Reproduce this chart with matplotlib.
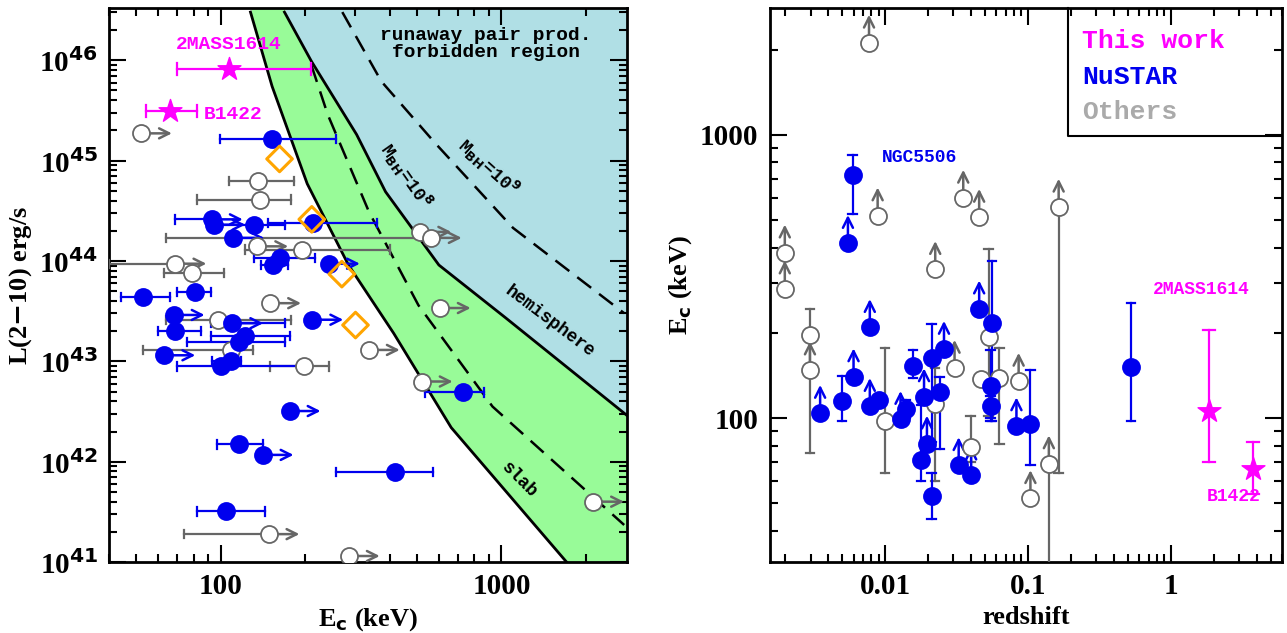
import numpy as np
import matplotlib
matplotlib.use("Agg")
import matplotlib.pyplot as plt

nan = np.nan
BLUE = "#0000ee"
GREY = "#666666"
PINK = "#ff00ff"
ORANGE = "#ffa500"

# ---------------- left panel data: Ec (keV) vs L(2-10) ----------------
blue_ec = [152, 93, 95, 131, 214, 111, 163, 154, 243, 53, 81, 68, 110, 212, 69, 122, 116, 63, 100, 109, 176, 116, 141, 418, 104, 728]
blue_L = [1.64e45, 2.6e44, 2.3e44, 2.3e44, 2.4e44, 1.7e44, 1.07e44, 9.1e43, 9.4e43, 4.4e43, 4.9e43, 2.9e43, 2.4e43, 2.6e43,
          2.0e43, 1.8e43, 1.55e43, 1.15e43, 8.9e42, 1.0e43, 3.2e42, 1.49e42, 1.17e42, 7.9e41, 3.2e41, 4.9e42]
blue_lo = [99, 69, nan, 100, 147, nan, 131, 139, nan, 44, 70, nan, 92, nan, 60, 92, 76, nan, 70, 93, nan, 97, nan, 258, 82, 535]
blue_hi = [258, nan, nan, 170, 361, nan, 217, 174, nan, 66, 92, nan, 170, nan, 85, 176, 170, nan, 196, 118, nan, 141, nan, 569, 144, 866]
blue_lim = [0, 1, 1, 0, 0, 1, 0, 0, 1, 0, 0, 1, 1, 1, 0, 0, 0, 1, 0, 0, 1, 0, 1, 0, 0, 0]

grey_ec = [52, 136, 138, 135, 195, 514, 560, 69, 79, 150, 98, 109, 198, 337, 603, 520, 2120, 148, 286]
grey_L = [1.87e45, 6.3e44, 4.1e44, 1.4e44, 1.3e44, 1.95e44, 1.7e44, 9.4e43, 7.6e43, 3.8e43, 2.6e43, 1.3e43, 8.9e42,
          1.3e43, 3.4e43, 6.3e42, 4.0e41, 1.9e41, 1.15e41]
grey_lo = [nan, 107, 82, nan, 122, nan, 64, 40, 63, nan, 64, 53, 150, nan, nan, nan, nan, 74, nan]
grey_hi = [nan, 183, 178, nan, 400, nan, nan, nan, 103, nan, 178, 130, 244, nan, nan, nan, nan, nan, nan]
grey_lim = [1, 0, 0, 1, 0, 1, 1, 1, 0, 1, 0, 0, 0, 1, 1, 1, 1, 1, 1]

diam_ec = [162, 211, 270, 302]
diam_L = [1.04e45, 2.6e44, 7.4e43, 2.3e43]

star_names = ["2MASS1614", "B1422"]
star_ec = [107, 66]
star_L = [8.2e45, 3.1e45]
star_lo = [70, 54]
star_hi = [210, 82]

# boundary curves (log Ec, log L)
hemi_x = [2.227, 2.323, 2.484, 2.587, 2.777, 3.012, 3.452]
hemi_y = [46.48, 45.99, 45.26, 44.69, 43.96, 43.44, 42.45]
slab_x = [2.106, 2.183, 2.308, 2.455, 2.616, 2.821, 3.232]
slab_y = [46.48, 45.74, 44.77, 43.96, 43.28, 42.34, 41.0]
m8_x = [2.323, 2.381, 2.528, 2.704, 2.968, 3.437]
m8_y = [45.95, 45.46, 44.49, 43.56, 42.55, 41.37]
m9_x = [2.433, 2.572, 2.762, 3.041, 3.437]
m9_y = [46.48, 45.79, 45.18, 44.33, 43.48]

# ---------------- right panel data: z vs Ec ----------------
rb_z = [0.0059, 0.00548, 0.0035, 0.0050, 0.006, 0.0078, 0.0078, 0.009, 0.0128, 0.0139, 0.0156, 0.0178, 0.0187, 0.0196,
        0.0211, 0.0211, 0.024, 0.0258, 0.0327, 0.040, 0.0455, 0.056, 0.0548, 0.0548, 0.083, 0.104, 0.527]
rb_ec = [722, 414, 104, 115, 140, 209, 110, 116, 99, 108, 153, 71, 119, 81, 53, 163, 124, 175, 68, 63, 243, 216, 130, 110, 94, 95, 152]
rb_lo = [525, nan, nan, 98, nan, nan, nan, nan, nan, 100, 139, 60, nan, nan, 44, 82, 78, nan, nan, nan, nan, 98, 100, 98, nan, 68, 98]
rb_hi = [850, nan, nan, 141, nan, nan, nan, nan, nan, 116, 174, 111, nan, nan, 64, 215, 140, nan, nan, nan, nan, 360, 174, 120, nan, 148, 255]
rb_lim = [0, 1, 1, 0, 1, 1, 1, 0, 1, 0, 0, 0, 1, 1, 0, 0, 0, 1, 1, 1, 1, 0, 0, 0, 1, 0, 0]

rg_z = [0.0077, 0.00198, 0.00198, 0.00297, 0.00297, 0.00885, 0.01, 0.0224, 0.0224, 0.0306, 0.0352, 0.0455, 0.0396,
        0.047, 0.053, 0.063, 0.086, 0.104, 0.14, 0.164]
rg_ec = [2110, 383, 286, 197, 148, 518, 98, 335, 112, 150, 598, 512, 79, 137, 194, 139, 135, 52, 69, 556]
rg_lo = [nan, nan, nan, 75, nan, nan, 64, nan, 60, nan, nan, nan, 70, nan, 102, 81, nan, nan, 30, 64]
rg_hi = [nan, nan, nan, 243, nan, nan, 177, nan, 150, nan, nan, nan, 102, nan, 396, 177, nan, nan, 69, 556]
rg_lim = [1, 1, 1, 0, 1, 1, 0, 1, 0, 1, 1, 1, 0, 0, 0, 0, 1, 1, 1, 1]

rs_z = [1.85, 3.75]
rs_ec = [106, 66]
rs_lo = [70, 54]
rs_hi = [205, 82]

MONO = "Liberation Mono"
SERIF = "Liberation Serif"
plt.rcParams["font.family"] = SERIF
plt.rcParams["font.weight"] = "bold"

fig = plt.figure(figsize=(12.87, 6.33), dpi=100)
axL = fig.add_axes([0.0847, 0.112, 0.4025, 0.875])
axR = fig.add_axes([0.598, 0.112, 0.398, 0.875])


def style(ax):
    for s in ax.spines.values():
        s.set_linewidth(2)
    ax.tick_params(which="both", direction="in", top=True, right=True, width=1.5)
    ax.tick_params(which="major", length=12, labelsize=21, pad=8)
    ax.tick_params(which="minor", length=6)
    for t in ax.get_xticklabels() + ax.get_yticklabels():
        t.set_fontweight("bold")


def hpoints(ax, x, y, lo, hi, lim, fc, ec, col, dex=0.11):
    for xi, yi, l, h, a in zip(x, y, lo, hi, lim):
        if not np.isnan(l):
            ax.plot([l, xi], [yi, yi], color=col, lw=1.6, zorder=3)
            ax.plot([l, l], [yi / 1.1, yi * 1.1], color=col, lw=1.6, zorder=3)
        if not np.isnan(h):
            ax.plot([xi, h], [yi, yi], color=col, lw=1.6, zorder=3)
            ax.plot([h, h], [yi / 1.1, yi * 1.1], color=col, lw=1.6, zorder=3)
        if a:
            ax.annotate("", xy=(xi * 10 ** dex, yi), xytext=(xi, yi),
                        arrowprops=dict(arrowstyle="->", color=col, lw=1.8,
                                        mutation_scale=18, shrinkA=0, shrinkB=0), zorder=3)
    ax.scatter(x, y, s=150, facecolor=fc, edgecolor=ec, lw=1.3, zorder=5)


def vpoints(ax, x, y, lo, hi, lim, fc, ec, col, dex=0.1):
    for xi, yi, l, h, a in zip(x, y, lo, hi, lim):
        if not np.isnan(l):
            ax.plot([xi, xi], [l, h], color=col, lw=1.6, zorder=3)
            if l > 35:
                ax.plot([xi / 1.07, xi * 1.07], [l, l], color=col, lw=1.6, zorder=3)
            ax.plot([xi / 1.07, xi * 1.07], [h, h], color=col, lw=1.6, zorder=3)
        if a:
            ax.annotate("", xy=(xi, yi * 10 ** dex), xytext=(xi, yi),
                        arrowprops=dict(arrowstyle="->", color=col, lw=1.8,
                                        mutation_scale=18, shrinkA=0, shrinkB=0), zorder=3)
    ax.scatter(x, y, s=150, facecolor=fc, edgecolor=ec, lw=1.3, zorder=5)


# ---------------- left ----------------
ax = axL
ax.set_xscale("log")
ax.set_yscale("log")
ax.set_xlim(40, 2800)
ax.set_ylim(1e41, 3.3e46)

xx = np.linspace(1.5, 3.6, 300)
hy = np.interp(xx, hemi_x, hemi_y, left=47, right=hemi_y[-1] + (xx[-1] - hemi_x[-1]) * -2.2)
sy = np.interp(xx, slab_x, slab_y, left=47, right=40)
ax.fill_between(10 ** xx, 10 ** sy, 10 ** hy, color="#98fb98", zorder=0, lw=0)
ax.fill_between(10 ** xx, 10 ** hy, 1e48, color="#b0dfe5", zorder=0, lw=0)
ax.plot(10 ** np.array(hemi_x), 10 ** np.array(hemi_y), color="k", lw=2, zorder=1)
ax.plot(10 ** np.array(slab_x), 10 ** np.array(slab_y), color="k", lw=2, zorder=1)
ax.plot(10 ** np.array(m8_x), 10 ** np.array(m8_y), color="k", lw=1.8, ls=(0, (7, 4)), zorder=1)
ax.plot(10 ** np.array(m9_x), 10 ** np.array(m9_y), color="k", lw=1.8, ls=(0, (7, 4)), zorder=1)

hpoints(ax, grey_ec, grey_L, grey_lo, grey_hi, grey_lim, "white", GREY, GREY)
hpoints(ax, blue_ec, blue_L, blue_lo, blue_hi, blue_lim, BLUE, BLUE, BLUE)
ax.scatter(diam_ec, diam_L, s=170, marker="D", facecolor="none", edgecolor=ORANGE, lw=2.2, zorder=5)
for e, L, l, h in zip(star_ec, star_L, star_lo, star_hi):
    ax.plot([l, h], [L, L], color=PINK, lw=1.6, zorder=4)
    ax.plot([l, l], [L / 1.15, L * 1.15], color=PINK, lw=1.6, zorder=4)
    ax.plot([h, h], [L / 1.15, L * 1.15], color=PINK, lw=1.6, zorder=4)
ax.scatter(star_ec, star_L, s=300, marker="*", color=PINK, zorder=6)
ax.text(107, 1.3e46, star_names[0], color=PINK, fontsize=14, family=MONO, weight="bold", ha="center")
ax.text(87, 2.6e45, star_names[1], color=PINK, fontsize=14, family=MONO, weight="bold")

ax.text(880, 1.45e46, "runaway pair prod.\nforbidden region", ha="center", va="center",
        fontsize=14, family=MONO, weight="bold", linespacing=0.95)
ax.text(457, 7e44, r"M$_{\rm BH}$=10$^8$", rotation=-55, fontsize=13, family=MONO, weight="bold",
        ha="center", va="center")
ax.text(897, 8.7e44, r"M$_{\rm BH}$=10$^9$", rotation=-42, fontsize=13, family=MONO, weight="bold",
        ha="center", va="center")
ax.text(1490, 2.5e43, "hemisphere", rotation=-37, fontsize=13, family=MONO, weight="bold",
        ha="center", va="center")
ax.text(1156, 6.6e41, "slab", rotation=-45, fontsize=13, family=MONO, weight="bold",
        ha="center", va="center")

ax.set_xticks([100, 1000])
ax.set_xticklabels(["100", "1000"])
ax.set_yticks([1e41, 1e42, 1e43, 1e44, 1e45, 1e46])
ax.set_yticklabels([r"10$^{%d}$" % p for p in range(41, 47)])
ax.set_xlabel(r"E$_{\rm c}$ (keV)", fontsize=19, weight="bold")
ax.set_ylabel("L(2$-$10) erg/s", fontsize=19, weight="bold")
style(ax)

# ---------------- right ----------------
ax = axR
ax.set_xscale("log")
ax.set_yscale("log")
ax.set_xlim(0.00155, 6)
ax.set_ylim(31, 2800)
vpoints(ax, rg_z, rg_ec, rg_lo, rg_hi, rg_lim, "white", GREY, GREY)
vpoints(ax, rb_z, rb_ec, rb_lo, rb_hi, rb_lim, BLUE, BLUE, BLUE)
for z, e, l, h in zip(rs_z, rs_ec, rs_lo, rs_hi):
    ax.plot([z, z], [l, h], color=PINK, lw=1.6, zorder=4)
    ax.plot([z / 1.1, z * 1.1], [l, l], color=PINK, lw=1.6, zorder=4)
    ax.plot([z / 1.1, z * 1.1], [h, h], color=PINK, lw=1.6, zorder=4)
ax.scatter(rs_z, rs_ec, s=300, marker="*", color=PINK, zorder=6)
ax.text(0.0095, 800, "NGC5506", color=BLUE, fontsize=13, family=MONO, weight="bold")
ax.text(0.75, 275, "2MASS1614", color=PINK, fontsize=13, family=MONO, weight="bold")
ax.text(1.8, 51, "B1422", color=PINK, fontsize=13, family=MONO, weight="bold")

leg = [("This work", PINK), ("NuSTAR", BLUE), ("Others", "#aaaaaa")]
for i, (t, c) in enumerate(leg):
    ax.text(0.61, 0.94 - i * 0.064, t, color=c, fontsize=19, family=MONO,
            transform=ax.transAxes, va="center")
ax.plot([0.583, 0.583, 1.0], [1.0, 0.77, 0.77], color="k", lw=1.5, transform=ax.transAxes, clip_on=False)

ax.set_xticks([0.01, 0.1, 1])
ax.set_xticklabels(["0.01", "0.1", "1"])
ax.set_yticks([100, 1000])
ax.set_yticklabels(["100", "1000"])
ax.set_xlabel("redshift", fontsize=19, weight="bold")
ax.set_ylabel(r"E$_{\rm c}$ (keV)", fontsize=19, weight="bold")
style(ax)

fig.savefig("out.png", dpi=100)
